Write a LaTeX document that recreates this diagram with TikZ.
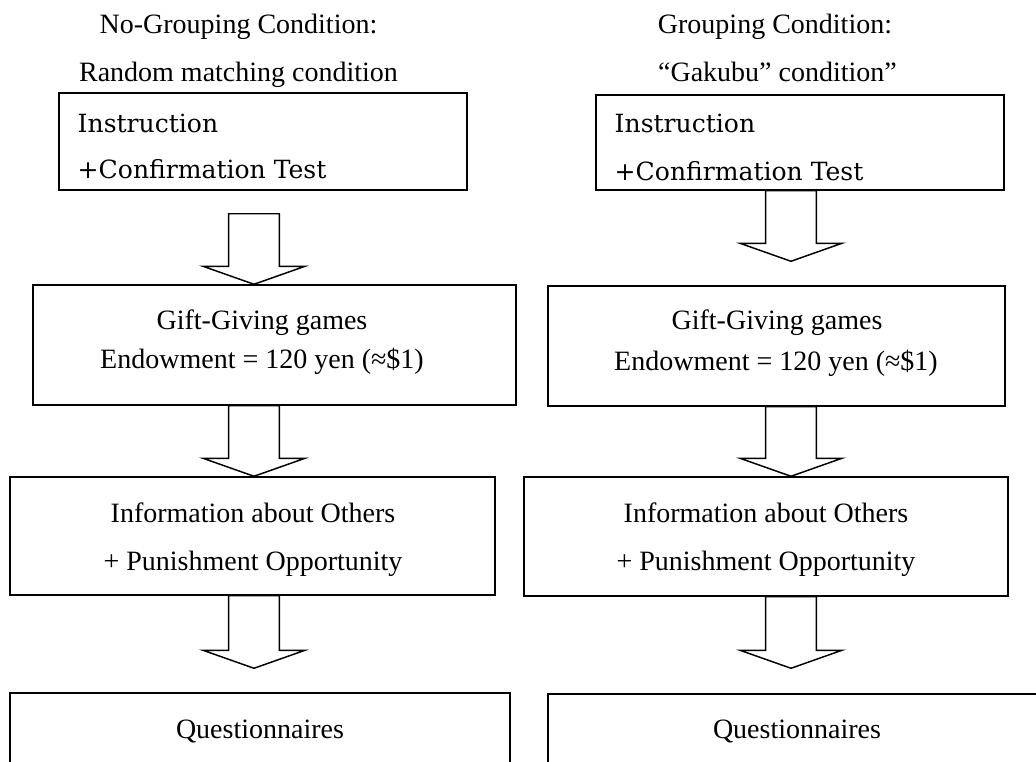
\documentclass[tikz,border=0pt]{standalone}
\usepackage{fontspec}
\setmainfont{Liberation Serif}
\newfontfamily\mincho{DejaVu Serif}
\usetikzlibrary{calc}

\tikzset{every picture/.style={line width=1.1pt}}
\tikzset{
  box/.style={draw, inner sep=0pt},
  txt/.style={anchor=base, inner sep=0pt, font=\fontsize{21}{25}\selectfont},
  mtxt/.style={anchor=base west, inner sep=0pt, font=\mincho\fontsize{18.8}{22}\selectfont},
  fatarrow/.style={draw, fill=white, line join=miter}
}

% block arrow: x from the start point, tip at the end point
\newcommand{\fatarrow}[2]{%
  \draw [fatarrow] let \p1=(#1), \p2=(#2) in
    (\x1-19.1pt,\y1) -- (\x1-19.1pt,\y2-13.5pt) -- (\x1-38.25pt,\y2-13.5pt) -- (\x1,\y2)
    -- (\x1+38.25pt,\y2-13.5pt) -- (\x1+19.1pt,\y2-13.5pt) -- (\x1+19.1pt,\y1) -- cycle ;}

\begin{document}
\begin{tikzpicture}[x=0.75pt,y=0.75pt,yscale=-1,xscale=1]
\useasboundingbox (0,0) rectangle (1036,761);

\coordinate (colL) at (254,0);
\coordinate (colR) at (791,0);

% left column
\node [txt] (titleL) at (238.5,33) {No-Grouping Condition:};
\node [txt] (subL) at (238.5,81) {Random matching condition};
\node [box, minimum width=306pt, minimum height=72.75pt] (instL) at (263,141.5) {};
\node [mtxt] (instLa) at (77,132) {Instruction};
\node [mtxt] (instLb) at (77,178) {+Confirmation Test};
\node [box, minimum width=362.25pt, minimum height=90pt] (gameL) at (274.5,345) {};
\node [txt] (gameLa) at (262,329) {Gift-Giving games};
\node [txt] (gameLb) at (262,368) {Endowment = 120 yen (≈\$1)};
\node [box, minimum width=363.75pt, minimum height=88.5pt] (infoL) at (252.5,536) {};
\node [txt] (infoLa) at (253,522) {Information about Others};
\node [txt] (infoLb) at (253,570) {+ Punishment Opportunity};
\node [box, minimum width=375pt, minimum height=80.25pt] (questL) at (260,746.5) {};
\node [txt] (questLa) at (260,738) {Questionnaires};

% right column
\node [txt] (titleR) at (775,33) {Grouping Condition:};
\node [txt] (subR) at (777.5,81) {“Gakubu” condition”};
\node [box, minimum width=306pt, minimum height=71.25pt] (instR) at (800,142.5) {};
\node [mtxt] (instRa) at (614,132) {Instruction};
\node [mtxt] (instRb) at (614,180) {+Confirmation Test};
\node [box, minimum width=342.75pt, minimum height=90pt] (gameR) at (776.5,346) {};
\node [txt] (gameRa) at (777,329) {Gift-Giving games};
\node [txt] (gameRb) at (776,370) {Endowment = 120 yen (≈\$1)};
\node [box, minimum width=363pt, minimum height=89.25pt] (infoR) at (766,536.5) {};
\node [txt] (infoRa) at (766,522) {Information about Others};
\node [txt] (infoRb) at (766,570) {+ Punishment Opportunity};
\node [box, minimum width=384pt, minimum height=79.5pt] (questR) at (804,747) {};
\node [txt] (questRa) at (797,738) {Questionnaires};

% arrows
\fatarrow{$(instL.south -| colL)+(0,23)$}{gameL.north -| colL}
\fatarrow{gameL.south -| colL}{infoL.north -| colL}
\fatarrow{infoL.south -| colL}{$(questL.north -| colL)+(0,-24)$}
\fatarrow{instR.south -| colR}{$(gameR.north -| colR)+(0,-24)$}
\fatarrow{gameR.south -| colR}{infoR.north -| colR}
\fatarrow{infoR.south -| colR}{$(questR.north -| colR)+(0,-25)$}
\end{tikzpicture}
\end{document}
